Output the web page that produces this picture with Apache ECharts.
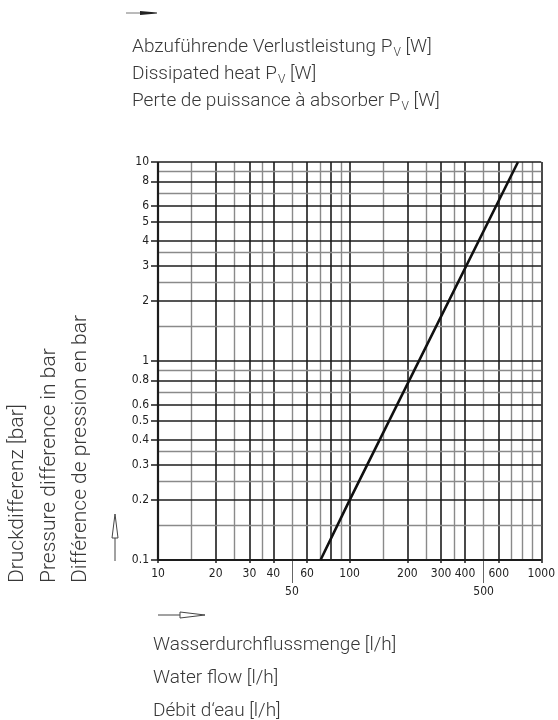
<!DOCTYPE html>
<html>
<head>
<meta charset="utf-8">
<script src="https://cdn.jsdelivr.net/npm/echarts@6/dist/echarts.min.js"></script>
<style>
  html, body { margin: 0; padding: 0; background: #fff; }
  #chart { width: 558px; height: 720px; }
</style>
</head>
<body>
<div id="chart"></div>
<script>
// Kennlinie: Wasserdurchfluss [l/h] -> Druckdifferenz [bar]
var flow = [70.5, 100, 756];
var pressure = [0.1, 0.2, 10];

// beschriftete Werte (schwarze Linien)
var xLabels = [10, 20, 30, 40, 60, 100, 200, 300, 400, 600, 1000];
var xLabelsLow = [50, 500];
var yLabels = [0.1, 0.2, 0.3, 0.4, 0.5, 0.6, 0.8, 1, 2, 3, 4, 5, 6, 8, 10];
// zusaetzliche Gitterlinien
var xMajorGrid = [10, 20, 30, 40, 60, 80, 100, 200, 300, 400, 600, 1000];
var xMinorGrid = [15, 25, 35, 50, 70, 90, 150, 250, 350, 500, 700, 800, 900];
var yMinorGrid = [0.15, 0.25, 0.35, 0.7, 0.9, 1.5, 2.5, 3.5, 7, 9];

var chart = echarts.init(document.getElementById('chart'));

var txt = '#383838';
var dark = '#1c1c1c';
var gray = '#8a8a8a';
var tickFont = "'Liberation Sans Narrow', 'DejaVu Sans Condensed', sans-serif";
var textFont = "Roboto, 'Open Sans', sans-serif";

var gridLines = [];
xMajorGrid.forEach(function (v) {
  gridLines.push({ xAxis: v, lineStyle: { color: dark, width: 1.6, type: 'solid' } });
});
xMinorGrid.forEach(function (v) {
  gridLines.push({ xAxis: v, lineStyle: { color: gray, width: 1.4, type: 'solid' } });
});
yLabels.forEach(function (v) {
  gridLines.push({ yAxis: v, lineStyle: { color: dark, width: 1.6, type: 'solid' } });
});
yMinorGrid.forEach(function (v) {
  gridLines.push({ yAxis: v, lineStyle: { color: gray, width: 1.4, type: 'solid' } });
});
// Rahmen unten / links etwas kraeftiger
gridLines.push({ yAxis: 0.1, lineStyle: { color: dark, width: 2.2, type: 'solid' } });
gridLines.push({ xAxis: 10, lineStyle: { color: dark, width: 2.2, type: 'solid' } });

function titleLine(main, left, top, sub) {
  return {
    left: left,
    top: top,
    padding: 0,
    text: sub ? '{t|' + main + ' P}{s|V}{t| [W]}' : '{t|' + main + '}',
    textStyle: {
      rich: {
        t: { fontSize: 19, color: txt, fontFamily: textFont, fontWeight: 300 },
        s: { fontSize: 12, color: txt, fontFamily: textFont, fontWeight: 300, padding: [11, 0, 0, 1] }
      }
    }
  };
}

function sideText(str, x) {
  return {
    type: 'text', x: x, y: 583, rotation: Math.PI / 2,
    style: { text: str, fill: txt, fontSize: 21, fontFamily: textFont, fontWeight: 300, textAlign: 'left', textVerticalAlign: 'middle' }
  };
}

var option = {
  animation: false,
  title: [
    titleLine('Abzuführende Verlustleistung', 132, 36, true),
    titleLine('Dissipated heat', 132, 63, true),
    titleLine('Perte de puissance à absorber', 132, 90, true),
    titleLine('Wasserdurchflussmenge [l/h]', 153, 636, false),
    titleLine('Water flow [l/h]', 153, 669, false),
    titleLine('Débit d‘eau [l/h]', 153, 702, false)
  ],
  grid: { left: 158, right: 16, top: 162, bottom: 160 },
  xAxis: [{
    type: 'log',
    logBase: 10,
    min: 10,
    max: 1000,
    position: 'bottom',
    axisLine: { show: false, onZero: false },
    splitLine: { show: false },
    minorTick: { show: false },
    axisTick: { show: true, customValues: xLabels, length: 3, lineStyle: { color: dark, width: 1.5 } },
    axisLabel: {
      customValues: xLabels, margin: 8, fontSize: 12, color: '#222', fontFamily: tickFont,
      formatter: function (v) { return String(v); }
    }
  }, {
    type: 'log',
    logBase: 10,
    min: 10,
    max: 1000,
    position: 'bottom',
    axisLine: { show: false, onZero: false },
    splitLine: { show: false },
    axisTick: { show: true, customValues: xLabelsLow, length: 23, lineStyle: { color: '#666', width: 1 } },
    axisLabel: {
      customValues: xLabelsLow, margin: 26, fontSize: 12, color: '#222', fontFamily: tickFont,
      formatter: function (v) { return String(v); }
    }
  }],
  yAxis: {
    type: 'log',
    logBase: 10,
    min: 0.1,
    max: 10,
    axisLine: { show: false },
    splitLine: { show: false },
    axisTick: { show: true, customValues: yLabels, length: 7, lineStyle: { color: dark, width: 1.5 } },
    axisLabel: {
      customValues: yLabels, margin: 9, fontSize: 12, color: '#222', fontFamily: tickFont,
      formatter: function (v) { return String(v); }
    }
  },
  series: [{
    type: 'line',
    data: [],
    z: 1,
    silent: true,
    markLine: {
      silent: true,
      symbol: ['none', 'none'],
      label: { show: false },
      emphasis: { disabled: true },
      data: gridLines
    }
  }, {
    type: 'line',
    z: 5,
    data: flow.map(function (q, i) { return [q, pressure[i]]; }),
    symbol: 'none',
    lineStyle: { color: '#111', width: 2.6 }
  }],
  graphic: [
    // Pfeil oben
    { type: 'line', shape: { x1: 126, y1: 13, x2: 141, y2: 13 }, style: { stroke: '#777', lineWidth: 1 } },
    { type: 'polygon', shape: { points: [[140, 11], [157, 12.5], [157, 13.5], [140, 15]] }, style: { fill: '#222' } },
    // Pfeil unten
    { type: 'line', shape: { x1: 158, y1: 615, x2: 180, y2: 615 }, style: { stroke: '#444', lineWidth: 1 } },
    { type: 'polygon', shape: { points: [[180, 612], [205, 615], [180, 618]] }, style: { fill: '#fff', stroke: '#444', lineWidth: 1 } },
    // Pfeil links
    { type: 'line', shape: { x1: 115, y1: 538, x2: 115, y2: 561 }, style: { stroke: '#444', lineWidth: 1 } },
    { type: 'polygon', shape: { points: [[112, 538], [115, 514], [118, 538]] }, style: { fill: '#fff', stroke: '#444', lineWidth: 1 } },
    // Achsentitel links (gedreht)
    sideText('Druckdifferenz [bar]', 18),
    sideText('Pressure difference in bar', 50),
    sideText('Différence de pression en bar', 81)
  ]
};

chart.setOption(option);
</script>
</body>
</html>
